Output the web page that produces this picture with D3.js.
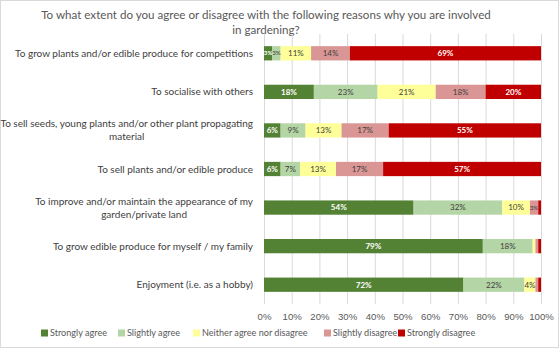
<!DOCTYPE html>
<html>
<head>
<meta charset="utf-8">
<script src="https://cdn.jsdelivr.net/npm/d3@7"></script>
<style>
  body { margin: 0; background: #fff; }
  svg { display: block; font-family: Lato, "Liberation Sans", sans-serif; }
</style>
</head>
<body>
<div id="chart"></div>
<script>
(function() {

// data
let categories = [
    "To grow plants and/or edible produce for competitions",
    "To socialise with others",
    "To sell seeds, young plants and/or other plant propagating material",
    "To sell plants and/or edible produce",
    "To improve and/or maintain the appearance of my garden/private land",
    "To grow edible produce for myself / my family",
    "Enjoyment (i.e. as a hobby)"
];
let labelLines = [
    ["To grow plants and/or edible produce for competitions"],
    ["To socialise with others"],
    ["To sell seeds, young plants and/or other plant propagating", "material"],
    ["To sell plants and/or edible produce"],
    ["To improve and/or maintain the appearance of my", "garden/private land"],
    ["To grow edible produce for myself / my family"],
    ["Enjoyment (i.e. as a hobby)"]
];
let seriesNames = ["Strongly agree", "Slightly agree", "Neither agree nor disagree", "Slightly disagree", "Strongly disagree"];
let stronglyAgree    = [3, 18, 6, 6, 54, 79, 72];
let slightlyAgree    = [3, 23, 9, 7, 32, 18, 22];
let neither          = [11, 21, 13, 13, 10, 1, 4];
let slightlyDisagree = [14, 18, 17, 17, 3, 1, 1];
let stronglyDisagree = [69, 20, 55, 57, 1, 1, 1];
let xTicks = [0, 10, 20, 30, 40, 50, 60, 70, 80, 90, 100];
let titleLines = ["To what extent do you agree or disagree with the following reasons why you are involved", "in gardening?"];

let colors = ["#548235", "#b4d5a5", "#ffff99", "#da9694", "#c00000"];
let textColors = ["#ffffff", "#404040", "#404040", "#404040", "#ffffff"];

let W = 559, H = 348;
let margin = {top: 34, right: 18, bottom: 44, left: 264};
let width = W - margin.left - margin.right;
let height = H - margin.top - margin.bottom;

let rows = categories.map((c, i) => {
    let r = {cat: c};
    r[seriesNames[0]] = stronglyAgree[i];
    r[seriesNames[1]] = slightlyAgree[i];
    r[seriesNames[2]] = neither[i];
    r[seriesNames[3]] = slightlyDisagree[i];
    r[seriesNames[4]] = stronglyDisagree[i];
    return r;
});
let stacked = d3.stack().keys(seriesNames)(rows);

let xScale = d3.scaleLinear().domain([0, 100]).range([0, width]);
let yScale = d3.scaleBand().domain(categories).range([0, height]).paddingInner(0.63).paddingOuter(0.315);

let root = d3.select("#chart").append("svg")
    .attr("width", W)
    .attr("height", H);

root.append("rect")
    .attr("x", 0.5).attr("y", 0.5)
    .attr("width", W - 1).attr("height", H - 1)
    .attr("fill", "#fff")
    .attr("stroke", "#d9d9d9");

// title
root.append("g").selectAll("text")
    .data(titleLines)
    .join("text")
    .attr("x", 266)
    .attr("y", (d, i) => 19 + i * 15)
    .attr("text-anchor", "middle")
    .attr("fill", "#595959")
    .attr("font-size", 11.6)
    .text(d => d);

let svg = root.append("g")
    .attr("transform", "translate(" + margin.left + "," + margin.top + ")");

// gridlines
svg.append("g")
    .selectAll("line")
    .data(xTicks)
    .join("line")
    .attr("x1", d => xScale(d) + 0.5)
    .attr("x2", d => xScale(d) + 0.5)
    .attr("y1", 0)
    .attr("y2", height)
    .attr("stroke", "#d9d9d9");

// x axis
let xAxis = svg.append("g")
    .attr("transform", "translate(0," + height + ")")
    .call(d3.axisBottom(xScale).tickValues(xTicks).tickFormat(d => d + "%").tickSize(0).tickPadding(9));
xAxis.select(".domain").remove();
xAxis.selectAll("text")
    .attr("fill", "#595959")
    .attr("font-size", 9.6)
    .attr("font-family", null);

// bars
let layers = svg.append("g")
    .selectAll("g")
    .data(stacked)
    .join("g")
    .attr("fill", (d, i) => colors[i]);

layers.selectAll("rect")
    .data(d => d.map(p => ({p: p, cat: p.data.cat})))
    .join("rect")
    .attr("x", d => xScale(d.p[0]))
    .attr("y", d => yScale(d.cat))
    .attr("width", d => xScale(d.p[1]) - xScale(d.p[0]))
    .attr("height", yScale.bandwidth());

// value labels (narrow segments get a smaller font so they don't collide)
stacked.forEach((s, si) => {
    svg.append("g")
        .selectAll("text")
        .data(s.filter(p => p[1] - p[0] >= 3))
        .join("text")
        .attr("x", p => xScale((p[0] + p[1]) / 2))
        .attr("y", p => yScale(p.data.cat) + yScale.bandwidth() / 2)
        .attr("dy", "0.35em")
        .attr("text-anchor", "middle")
        .attr("font-size", p => (p[1] - p[0]) < 4 ? 6.2 : 8)
        .attr("font-weight", si === 0 || si === 4 ? "bold" : "normal")
        .attr("fill", textColors[si])
        .text(p => (p[1] - p[0]) + "%");
});

// category labels
let catG = svg.append("g")
    .selectAll("g")
    .data(categories)
    .join("g");

catG.each(function(c, i) {
    let lines = labelLines[i];
    let g = d3.select(this);
    let cy = yScale(c) + yScale.bandwidth() / 2;
    let t = g.append("text")
        .attr("fill", "#404040")
        .attr("font-size", 10)
        .attr("text-anchor", "end");
    let tspans = lines.map((l, j) => t.append("tspan")
        .attr("x", -11)
        .attr("y", cy + (j - (lines.length - 1) / 2) * 13)
        .attr("dy", "0.35em")
        .text(l));
    // second line centred under the first, like Excel wraps it
    if (lines.length > 1) {
        let w0 = tspans[0].node().getComputedTextLength();
        tspans[1].attr("text-anchor", "middle").attr("x", -11 - w0 / 2);
    }
});

// legend
let legendX = [41, 118, 193, 324, 398];
let legend = root.append("g")
    .selectAll("g")
    .data(seriesNames)
    .join("g")
    .attr("transform", (d, i) => "translate(" + legendX[i] + ",333)");
legend.append("rect")
    .attr("x", 0).attr("y", -3.5)
    .attr("width", 7).attr("height", 7)
    .attr("fill", (d, i) => colors[i]);
legend.append("text")
    .attr("x", 9)
    .attr("dy", "0.35em")
    .attr("fill", "#595959")
    .attr("font-size", 9.1)
    .text(d => d);

})();
</script>
</body>
</html>
